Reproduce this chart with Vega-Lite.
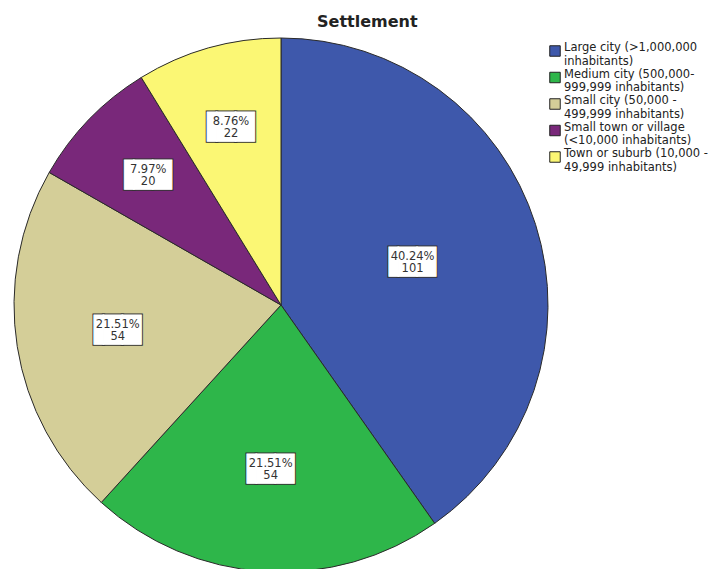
{
  "$schema": "https://vega.github.io/schema/vega-lite/v6.json",
  "width": 534,
  "height": 534,
  "autosize": {"type": "none"},
  "padding": {"left": 14, "top": 38, "right": 174, "bottom": 0},
  "background": "white",
  "title": {"text": "Settlement", "anchor": "start", "dx": 305, "offset": 6, "fontSize": 16, "font": "DejaVu Sans", "fontWeight": "bold", "color": "#222222"},
  "data": {"values": [
    {"settlement": "Large city (>1,000,000\ninhabitants)", "count": 101, "pct": "40.24%"},
    {"settlement": "Medium city (500,000-\n999,999 inhabitants)", "count": 54, "pct": "21.51%"},
    {"settlement": "Small city (50,000 -\n499,999 inhabitants)", "count": 54, "pct": "21.51%"},
    {"settlement": "Small town or village\n(<10,000 inhabitants)", "count": 20, "pct": "7.97%"},
    {"settlement": "Town or suburb (10,000 -\n49,999 inhabitants)", "count": 22, "pct": "8.76%"}
  ]},
  "encoding": {
    "theta": {"field": "count", "type": "quantitative", "stack": true},
    "order": {"field": "settlement", "type": "ordinal", "sort": "ascending"}
  },
  "layer": [
    {
      "mark": {"type": "arc", "stroke": "#2a2a2a", "strokeWidth": 1},
      "encoding": {
        "color": {
          "field": "settlement", "type": "nominal",
          "scale": {
            "domain": ["Large city (>1,000,000\ninhabitants)", "Medium city (500,000-\n999,999 inhabitants)", "Small city (50,000 -\n499,999 inhabitants)", "Small town or village\n(<10,000 inhabitants)", "Town or suburb (10,000 -\n49,999 inhabitants)"],
            "range": ["#3e58ab", "#2eb64a", "#d4ce98", "#79287a", "#fbf774"]
          },
          "legend": {
            "orient": "none", "legendX": 535, "legendY": 7, "title": null,
            "symbolType": "square", "symbolSize": 110, "symbolStrokeColor": "#222222", "symbolStrokeWidth": 1, "symbolOpacity": 1,
            "labelFont": "DejaVu Sans", "labelFontSize": 11.5, "labelColor": "#222222", "labelBaseline": "alphabetic",
            "labelExpr": "split(datum.label, '\\n')", "labelLimit": 200, "rowPadding": 1.5, "labelOffset": 3
          }
        }
      }
    },
    {
      "mark": {"type": "text", "text": "▐██", "font": "DejaVu Sans", "fontSize": 24.5, "dx": -4.9, "stroke": "#333333", "strokeWidth": 3, "fill": "white", "baseline": "middle", "align": "center"},
      "encoding": {"radius": {"field": "count", "type": "quantitative", "scale": {"type": "linear", "zero": false, "domain": [20, 101], "range": [185, 138]}}}
    },
    {
      "mark": {"type": "text", "text": "▐██", "font": "DejaVu Sans", "fontSize": 24.5, "dx": -4.9, "fill": "white", "stroke": "white", "strokeWidth": 1, "baseline": "middle", "align": "center"},
      "encoding": {"radius": {"field": "count", "type": "quantitative"}}
    },
    {
      "mark": {"type": "text", "font": "DejaVu Sans", "fontSize": 11.5, "fill": "#333333", "baseline": "middle", "align": "center", "dy": -6},
      "encoding": {"radius": {"field": "count", "type": "quantitative"}, "text": {"field": "pct"}}
    },
    {
      "mark": {"type": "text", "font": "DejaVu Sans", "fontSize": 11.5, "fill": "#333333", "baseline": "middle", "align": "center", "dy": 6},
      "encoding": {"radius": {"field": "count", "type": "quantitative"}, "text": {"field": "count", "type": "quantitative"}}
    }
  ]
}
